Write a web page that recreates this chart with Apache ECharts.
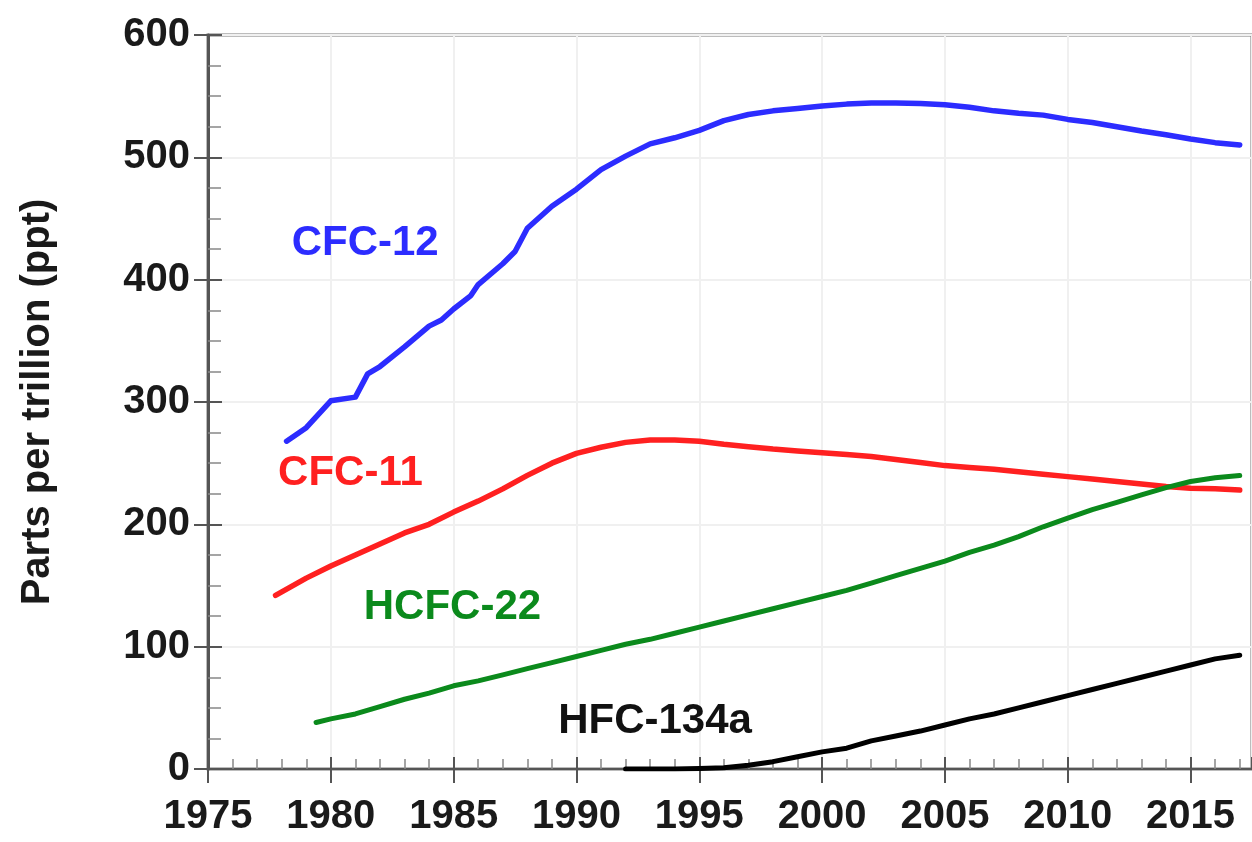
<!DOCTYPE html>
<html>
<head>
<meta charset="utf-8">
<script src="https://cdn.jsdelivr.net/npm/echarts@6/dist/echarts.min.js"></script>
<style>
  html, body { margin: 0; padding: 0; background: #fff; }
  #main { width: 1252px; height: 842px; }
</style>
</head>
<body>
<div id="main"></div>
<script>
// values (years, ppt)
const cfc12Years = [1978.2, 1979, 1980, 1981, 1981.5, 1982, 1983, 1984, 1984.5, 1985, 1985.7, 1986, 1987, 1987.5, 1988, 1989, 1990, 1991, 1992, 1993, 1994, 1995, 1996, 1997, 1998, 1999, 2000, 2001, 2002, 2003, 2004, 2005, 2006, 2007, 2008, 2009, 2010, 2011, 2012, 2013, 2014, 2015, 2016, 2017];
const cfc12Values = [268, 279, 301, 304, 323, 329, 345, 362, 367, 376, 387, 396, 413, 423, 442, 460, 474, 490, 501, 511, 516, 522, 530, 535, 538, 540, 542, 543.5, 544.5, 544.5, 544, 543, 541, 538, 536, 534.5, 531, 528.5, 525, 521.5, 518.5, 515, 512, 510];

const cfc11Years = [1977.75, 1979, 1980, 1981, 1982, 1983, 1984, 1985, 1986, 1987, 1988, 1989, 1990, 1991, 1992, 1993, 1994, 1995, 1996, 1997, 1998, 1999, 2000, 2001, 2002, 2003, 2004, 2005, 2006, 2007, 2008, 2009, 2010, 2011, 2012, 2013, 2014, 2015, 2016, 2017];
const cfc11Values = [142, 156, 166, 175, 184, 193, 200, 210, 219, 229, 240, 250, 258, 263, 267, 269, 269, 268, 265.5, 263.5, 261.5, 260, 258.5, 257, 255.5, 253, 250.5, 248, 246.5, 245, 243, 241, 239, 237, 235, 233, 231, 229.5, 229, 228];

const hcfc22Years = [1979.4, 1980, 1981, 1982, 1983, 1984, 1985, 1986, 1987, 1988, 1989, 1990, 1991, 1992, 1993, 1994, 1995, 1996, 1997, 1998, 1999, 2000, 2001, 2002, 2003, 2004, 2005, 2006, 2007, 2008, 2009, 2010, 2011, 2012, 2013, 2014, 2015, 2016, 2017];
const hcfc22Values = [38, 41, 45, 51, 57, 62, 68, 72, 77, 82, 87, 92, 97, 102, 106, 111, 116, 121, 126, 131, 136, 141, 146, 152, 158, 164, 170, 177, 183, 190, 198, 205, 212, 218, 224, 230, 235, 238, 240];

const hfc134aYears = [1992, 1993, 1994, 1995, 1996, 1997, 1998, 1999, 2000, 2001, 2002, 2003, 2004, 2005, 2006, 2007, 2008, 2009, 2010, 2011, 2012, 2013, 2014, 2015, 2016, 2017];
const hfc134aValues = [0, 0, 0, 0.5, 1, 3, 6, 10, 14, 17, 23, 27, 31, 36, 41, 45, 50, 55, 60, 65, 70, 75, 80, 85, 90, 93];

const zip = (xs, ys) => xs.map((x, i) => [x, ys[i]]);

const font = '"Liberation Sans", Arial, sans-serif';
const axisColor = '#555';

function lineSeries(name, years, values, color, width, labelAt, labelColor) {
  return {
    name: name,
    type: 'line',
    data: zip(years, values),
    showSymbol: false,
    smooth: false,
    lineStyle: { color: color, width: width, cap: 'round', join: 'round' },
    z: 5,
    markPoint: {
      symbol: 'rect',
      symbolSize: 1,
      itemStyle: { color: 'transparent' },
      label: {
        show: true,
        position: 'inside',
        formatter: name,
        color: labelColor || color,
        fontFamily: font,
        fontWeight: 'bold',
        fontSize: 42
      },
      data: [{ coord: labelAt }]
    }
  };
}

const chart = echarts.init(document.getElementById('main'));
chart.setOption({
  animation: false,
  backgroundColor: '#fff',
  grid: {
    left: 208, top: 35, bottom: 73, right: -3,
    show: true, borderColor: '#7a7a7a', borderWidth: 3
  },
  xAxis: [
    {
      type: 'value', min: 1975, max: 2017.5, interval: 5, position: 'bottom',
      axisLine: { show: true, onZero: false, lineStyle: { color: axisColor, width: 2 } },
      axisTick: { show: true, inside: false, length: 14, lineStyle: { color: axisColor, width: 2 } },
      axisLabel: {
        fontFamily: font, fontWeight: 'bold', fontSize: 40, color: '#1a1a1a', margin: 28,
        showMaxLabel: false,
        formatter: v => String(v)
      },
      splitLine: { show: true, lineStyle: { color: '#f0f0f0', width: 2 } }
    },
    {
      type: 'value', min: 1975, max: 2017.5, interval: 5, position: 'bottom',
      axisLine: { show: false, onZero: false },
      axisTick: { show: true, inside: true, length: 12, lineStyle: { color: axisColor, width: 2 } },
      minorTick: { show: true, splitNumber: 5, length: 10, lineStyle: { color: '#888', width: 1.5 } },
      axisLabel: { show: false },
      splitLine: { show: false }
    }
  ],
  yAxis: [
    {
      type: 'value', min: 0, max: 600, interval: 100, position: 'left',
      name: 'Parts per trillion (ppt)', nameLocation: 'middle', nameGap: 150, nameRotate: 90,
      nameTextStyle: { fontFamily: font, fontWeight: 'bold', fontSize: 40, color: '#1a1a1a' },
      axisLine: { show: true, onZero: false, lineStyle: { color: axisColor, width: 3 } },
      axisTick: { show: true, inside: false, length: 14, lineStyle: { color: axisColor, width: 2 } },
      axisLabel: { fontFamily: font, fontWeight: 'bold', fontSize: 40, color: '#1a1a1a', margin: 18 },
      splitLine: { show: true, lineStyle: { color: '#f0f0f0', width: 2 } }
    },
    {
      type: 'value', min: 0, max: 600, interval: 100, position: 'left',
      axisLine: { show: false, onZero: false },
      axisTick: { show: true, inside: true, length: 14, lineStyle: { color: axisColor, width: 2 } },
      minorTick: { show: true, splitNumber: 4, length: 13, lineStyle: { color: '#888', width: 1.5 } },
      axisLabel: { show: false },
      splitLine: { show: false }
    }
  ],
  series: [
    lineSeries('CFC-12', cfc12Years, cfc12Values, '#2c2cff', 5.5, [1981.4, 430]),
    lineSeries('CFC-11', cfc11Years, cfc11Values, '#ff2020', 5.5, [1980.8, 242]),
    lineSeries('HCFC-22', hcfc22Years, hcfc22Values, '#0b8a1c', 5, [1984.95, 132]),
    lineSeries('HFC-134a', hfc134aYears, hfc134aValues, '#000000', 5, [1993.2, 39], '#111')
  ]
});
</script>
</body>
</html>
